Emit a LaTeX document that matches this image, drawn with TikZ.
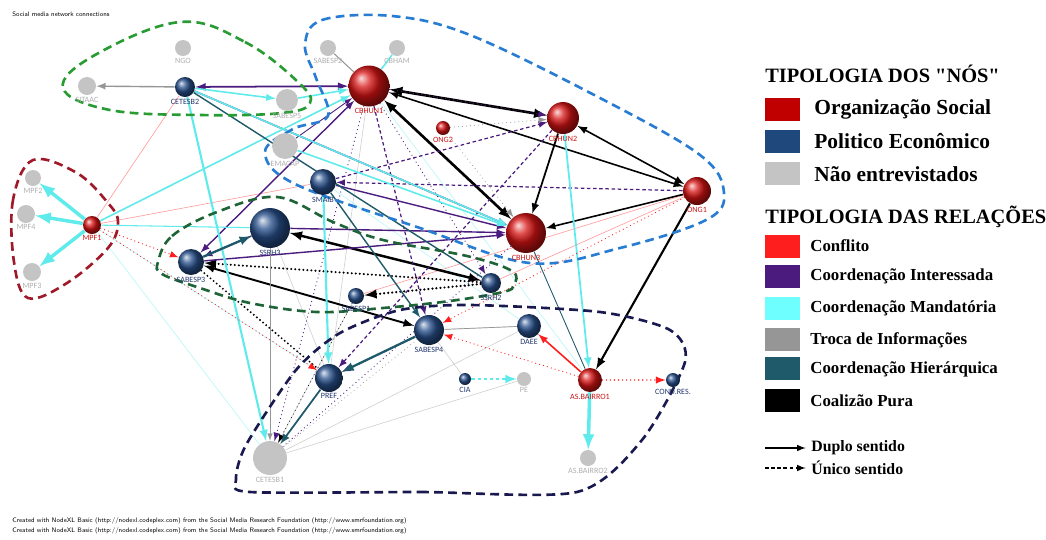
\documentclass[tikz,border=0pt]{standalone}
\usepackage{fontspec}
\setmainfont{Liberation Serif}
\newfontfamily\nxfont{Carlito}
\definecolor{socred}{RGB}{215,20,20}
\definecolor{legred}{RGB}{192,0,0}
\definecolor{polblue}{RGB}{40,80,140}
\definecolor{legblue}{RGB}{31,73,125}
\definecolor{nodegray}{RGB}{196,196,196}
\definecolor{confred}{RGB}{255,30,30}
\definecolor{intpurple}{RGB}{75,28,125}
\definecolor{mandcyan}{RGB}{95,235,235}
\definecolor{legcyan}{RGB}{110,255,255}
\definecolor{trocagray}{RGB}{150,150,150}
\definecolor{hierteal}{RGB}{30,90,105}
\definecolor{lblred}{RGB}{200,20,20}
\definecolor{lblblue}{RGB}{35,55,110}
\definecolor{lblgray}{RGB}{175,175,175}
\definecolor{grpgreen}{RGB}{40,155,50}
\definecolor{grpblue}{RGB}{40,125,210}
\definecolor{grpred}{RGB}{160,25,40}
\definecolor{grpdkgreen}{RGB}{30,100,55}
\definecolor{grpnavy}{RGB}{25,25,80}
\pgfdeclarelayer{background}
\pgfsetlayers{background,main}
\tikzset{
  nlbl/.style={font=\nxfont\fontsize{4.6}{5}\selectfont,inner sep=0.6pt},
  politic/.style={circle,inner sep=0pt,shading=ball,ball color=polblue,minimum size={#1*0.04cm}},
  notint/.style={circle,inner sep=0pt,fill=nodegray,minimum size={#1*0.04cm}},
  rlab/.style={label={[nlbl,text=lblred]below:#1}},
  blab/.style={label={[nlbl,text=lblblue]below:#1}},
  glab/.style={label={[nlbl,text=lblgray]below:#1}},
  tcoal/.style={draw=black,line width=#1},tcoal/.default=1pt,
  tint/.style={draw=intpurple,line width=#1},tint/.default=0.7pt,
  tmand/.style={draw=mandcyan,line width=#1},tmand/.default=0.9pt,
  tconf/.style={draw=confred,line width=#1},tconf/.default=0.7pt,
  ttroca/.style={draw=trocagray,line width=#1},ttroca/.default=0.6pt,
  thier/.style={draw=hierteal,line width=#1},thier/.default=0.9pt,
  dotline/.style={dash pattern=on 0pt off 2.3pt,line cap=round},
  dashline/.style={dash pattern=on 2pt off 1.5pt},
  faint/.style={line width=0.35pt,draw opacity=0.45},
  grp/.style={draw=#1,line width=1.5pt,dash pattern=on 5pt off 3pt},
  headtxt/.style={anchor=west,font=\bfseries\fontsize{11.6}{13}\selectfont,inner sep=0pt},
  keytxt/.style={anchor=west,font=\bfseries\fontsize{12.2}{14}\selectfont,inner sep=0pt},
  reltxt/.style={anchor=west,font=\bfseries\fontsize{9.6}{11}\selectfont,inner sep=0pt},
  credit/.style={anchor=west,font=\sffamily\fontsize{3.7}{4}\selectfont,inner sep=0pt}
}
\begin{document}
\begin{tikzpicture}[x=0.02cm,y=-0.02cm,>=latex,line join=round]
  \useasboundingbox (0,0) rectangle (1046,539);

  % network nodes
  \node[notint=8,glab=NGO] (ngo) at (183,48) {};
  \node[politic=10,blab=CETESB2] (cetesb2) at (185,87) {};
  \node[notint=9,glab=SITAAC] (sitaac) at (87,86) {};
  \node[notint=11,glab=SABESP5] (sabesp5) at (287,100) {};
  \node[notint=13,glab=EMACAP] (emacap) at (285,146) {};
  \node[notint=8,glab=SABESP2] (sabesp2) at (328,48) {};
  \node[notint=8,glab=CBHAM] (cbham) at (397,48) {};
  \node[circle,inner sep=0pt,shading=ball,ball color=socred,minimum size=0.82cm,rlab=CBHUN1] (cbhun1) at (369,86) {};
  \node[circle,inner sep=0pt,shading=ball,ball color=socred,minimum size=0.28cm,rlab=ONG2] (ong2) at (443,128) {};
  \node[circle,inner sep=0pt,shading=ball,ball color=socred,minimum size=0.64cm,rlab=CBHUN2] (cbhun2) at (563,118) {};
  \node[circle,inner sep=0pt,shading=ball,ball color=socred,minimum size=0.56cm,rlab=ONG1] (ong1) at (697,191) {};
  \node[circle,inner sep=0pt,shading=ball,ball color=socred,minimum size=0.8cm,rlab=CBHUN3] (cbhun3) at (526,233) {};
  \node[politic=13,blab=SMAIB] (smaib) at (323,182) {};
  \node[politic=20,blab=SSRH3] (ssrh3) at (270,228) {};
  \node[politic=13,blab=SABESP3] (sabesp3) at (191,262) {};
  \node[politic=8,blab=SABESP1] (sabesp1) at (356,296) {};
  \node[politic=10,blab=SSRH2] (ssrh2) at (491,283) {};
  \node[politic=15,blab=SABESP4] (sabesp4) at (429,330) {};
  \node[politic=12,blab=DAEE] (daee) at (529,326) {};
  \node[politic=14,blab=PREF] (pref) at (329,378) {};
  \node[politic=6,blab=CIA] (cia) at (465,379) {};
  \node[notint=7,glab=PE] (pe) at (524,379) {};
  \node[circle,inner sep=0pt,shading=ball,ball color=socred,minimum size=0.48cm,rlab=AS.BAIRRO1] (asb1) at (590,380) {};
  \node[politic=7,blab=COND.RES.] (condres) at (673,380) {};
  \node[notint=8,glab=AS.BAIRRO2] (asb2) at (588,458) {};
  \node[notint=17,glab=CETESB1] (cetesb1) at (270,458) {};
  \node[notint=8,glab=MPF2] (mpf2) at (33,178) {};
  \node[notint=9,glab=MPF4] (mpf4) at (26,214) {};
  \node[notint=9,glab=MPF3] (mpf3) at (32,272) {};
  \node[circle,inner sep=0pt,shading=ball,ball color=socred,minimum size=0.36cm,rlab=MPF1] (mpf1) at (92,225) {};

  \begin{pgfonlayer}{background}
  % faint background ties
  \draw[faint,trocagray] (pe) -- (cetesb1);
  \draw[faint,trocagray] (daee) -- (cetesb1);
  \draw[faint,trocagray] (cia) -- (sabesp4);
  \draw[faint,trocagray] (daee) -- (sabesp4);
  \draw[faint,trocagray] (sabesp1) -- (cetesb1);
  \draw[faint,trocagray] (ssrh3) -- (pref);
  \draw[faint,trocagray] (cbhun1) -- (pref);
  \draw[faint,confred] (mpf1) -- (cbhun1);
  \draw[faint,confred] (mpf1) -- (smaib);
  \draw[faint,confred] (cetesb2) -- (mpf1);
  \draw[faint,confred,dotline] (ong1) -- (cbhun3);
  \draw[faint,confred] (ong1) -- (ssrh2);
  \draw[faint,confred] (ong1) -- (sabesp1);
  \draw[faint,mandcyan] (mpf1) -- (cetesb1);
  \draw[faint,mandcyan] (mpf1) -- (pref);
  \draw[faint,mandcyan] (smaib) -- (daee);
  \draw[faint,mandcyan] (cbhun1) -- (asb1);

  % coalizao pura
  \draw[tcoal=1.5pt,<->] (cbhun1) -- (cbhun2);
  \draw[tcoal=1.5pt,<->] (cbhun1) -- (cbhun3);
  \draw[tcoal=0.9pt,<->] (cbhun1) -- (ong1);
  \draw[tcoal=0.9pt,<->] (cbhun2) -- (ong1);
  \draw[tcoal=1pt,->] (cbhun2) -- (cbhun3);
  \draw[tcoal=0.9pt,->] (ong1) -- (cbhun3);
  \draw[tcoal=1.2pt,->] (ong1) -- (asb1);
  \draw[tcoal=1.4pt,<->] (ssrh3) -- (ssrh2);
  \draw[tcoal=1.1pt,<->] (sabesp3) -- (sabesp4);
  \draw[tcoal=1.4pt,dotline,->] (ssrh2) -- (sabesp1);
  \draw[tcoal=1.3pt,dotline,->] (ssrh2) -- (sabesp3);
  \draw[tcoal=1.2pt,dotline] (sabesp3) -- (pref);
  \draw[tcoal=0.6pt,dotline,->] (sabesp1) -- (cetesb1);

  % coordenacao interessada
  \draw[tint=1pt,<->] (cetesb2) -- (cbhun1);
  \draw[tint=0.9pt,->] (cetesb2) -- (cbhun3);
  \draw[tint,dashline,->] (ong1) -- (smaib);
  \draw[tint,dashline,->] (smaib) -- (cbhun2);
  \draw[tint,dotline,->] (cbhun1) -- (cbhun2);
  \draw[tint=0.8pt,->] (smaib) -- (cbhun3);
  \draw[tint=0.8pt,->] (ssrh3) -- (cbhun3);
  \draw[tint=0.8pt,->] (sabesp3) -- (cbhun3);
  \draw[tint=0.8pt,<->] (sabesp3) -- (cbhun1);
  \draw[tint=0.8pt,->] (ssrh3) -- (sabesp3);
  \draw[tint,dashline,->] (cbhun1) -- (sabesp4);
  \draw[tint,dashline,->] (cbhun2) -- (pref);
  \draw[tint,dotline,->] (cbhun1) -- (cetesb1);
  \draw[tint,dotline,->] (cbhun1) -- (ssrh2);
  \draw[tint,dashline,->] (sabesp4) -- (pref);
  \draw[tint,dotline] (cbhun3) -- (cetesb1);
  \draw[tint=0.5pt,->] (emacap) -- (cbhun1);

  % coordenacao mandatoria
  \draw[tmand,->] (cetesb2) -- (sabesp5);
  \draw[tmand=1.2pt,->] (cetesb2) -- (cetesb1);
  \draw[tmand,->] (cetesb2) -- (cbhun3);
  \draw[tmand,->] (mpf1) -- (cbhun1);
  \draw[tmand=2pt,->] (mpf1) -- (mpf2);
  \draw[tmand=2pt,->] (mpf1) -- (mpf4);
  \draw[tmand=2pt,->] (mpf1) -- (mpf3);
  \draw[tmand] (cbham) -- (cbhun1);
  \draw[tmand,->] (emacap) -- (cbhun3);
  \draw[tmand,->] (sabesp5) -- (cbhun1);
  \draw[tmand=1.2pt,->] (smaib) -- (pref);
  \draw[tmand=1pt,->] (cbhun2) -- (asb1);
  \draw[tmand=2pt,->] (asb1) -- (asb2);
  \draw[tmand=1.2pt,dashline,->] (cia) -- (pe);
  \draw[tmand=0.6pt] (mpf1) -- (ssrh3);

  % coordenacao hierarquica
  \draw[thier=1.3pt,->] (sabesp3) -- (ssrh3);
  \draw[thier=1.3pt,->] (sabesp4) -- (pref);
  \draw[thier=1pt,->] (pref) -- (cetesb1);
  \draw[thier=0.8pt,->] (smaib) -- (sabesp4);
  \draw[thier=0.8pt] (cetesb2) -- (ssrh2);
  \draw[thier=0.5pt] (cbhun3) -- (asb1);

  % conflito
  \draw[tconf,dotline,->] (mpf1) -- (sabesp3);
  \draw[tconf,dotline,->] (mpf1) -- (pref);
  \draw[tconf=0.9pt,->] (asb1) -- (daee);
  \draw[tconf,dotline,->] (asb1) -- (sabesp4);
  \draw[tconf=0.9pt,dotline,->] (asb1) -- (condres);
  \draw[tconf,dotline,->] (ong1) -- (sabesp4);

  % troca de informacoes
  \draw[ttroca=0.8pt,->] (cetesb2) -- (sitaac);
  \draw[ttroca] (sabesp2) -- (cbhun1);
  \draw[ttroca,dotline,->] (ong2) -- (cbhun2);
  \draw[ttroca,dotline,->] (ong2) -- (cbhun3);
  \draw[ttroca=0.45pt,->] (ssrh3) -- (cetesb1);
  \draw[ttroca,dotline] (sabesp4) -- (cetesb1);
  \draw[ttroca=0.4pt] (sabesp4) -- (daee);

  % groupings
  \draw[grp=grpgreen] plot[smooth cycle,tension=0.65] coordinates
    {(180,22) (245,42) (298,82) (310,103) (282,113) (200,115) (110,110) (63,88) (95,55)};
  \draw[grp=grpblue] plot[smooth cycle,tension=0.6] coordinates
    {(305,45) (322,20) (392,16) (470,35) (600,98) (700,155) (724,193) (706,220) (620,248)
     (530,263) (420,228) (295,184) (265,152) (293,129) (328,116) (316,78)};
  \draw[grp=grpred] plot[smooth cycle,tension=0.6] coordinates
    {(33,160) (13,200) (14,262) (28,298) (67,283) (108,248) (118,222) (108,203) (77,173)};
  \draw[grp=grpdkgreen] plot[smooth cycle,tension=0.6] coordinates
    {(158,262) (172,236) (217,212) (277,197) (333,222) (383,240) (467,256) (512,271)
     (514,285) (503,292) (450,301) (383,308) (317,312) (250,303) (200,288) (162,274)};
  \draw[grp=grpnavy] plot[smooth cycle,tension=0.45] coordinates
    {(250,492) (420,492) (577,492) (642,440) (685,362) (670,330) (600,312) (470,305)
     (400,310) (340,333) (296,370) (246,445) (236,480)};
  \end{pgfonlayer}

  % captions
  \node[credit] (title) at (12,14) {Social media network connections};
  \node[credit] (cred1) at (12,521) {Created with NodeXL Basic (http://nodexl.codeplex.com) from the Social Media Research Foundation (http://www.smrfoundation.org)};
  \node[credit] (cred2) at (12,531) {Created with NodeXL Basic (http://nodexl.codeplex.com) from the Social Media Research Foundation (http://www.smrfoundation.org)};

  % legend: node types
  \node[headtxt] (nohead) at (765,74) {TIPOLOGIA DOS \textquotedbl NÓS\textquotedbl};
  \fill[legred] (765,98) rectangle (800,121);
  \fill[legblue] (765,130) rectangle (800,153);
  \fill[nodegray] (765,162) rectangle (800,185);
  \node[keytxt] (keysoc) at (814,109) {Organização Social};
  \node[keytxt] (keypol) at (814,141) {Politico Econômico};
  \node[keytxt] (keynao) at (814,174) {Não entrevistados};

  % legend: relation types
  \node[headtxt] (relhead) at (765,217) {TIPOLOGIA DAS RELAÇÕES};
  \fill[confred] (765,235) rectangle (800,258);
  \fill[intpurple] (765,265) rectangle (800,288);
  \fill[legcyan] (765,297) rectangle (800,320);
  \fill[trocagray] (765,328) rectangle (800,351);
  \fill[hierteal] (765,357) rectangle (800,380);
  \fill[black] (765,389) rectangle (800,412);
  \node[reltxt] (relconf) at (810,246) {Conflito};
  \node[reltxt] (relint) at (810,276) {Coordenação Interessada};
  \node[reltxt] (relmand) at (810,308) {Coordenação Mandatória};
  \node[reltxt] (reltroca) at (810,340) {Troca de Informações};
  \node[reltxt] (relhier) at (810,369) {Coordenação Hierárquica};
  \node[reltxt] (relcoal) at (810,401) {Coalizão Pura};

  % legend: direction
  \coordinate (duploa) at (765,448);
  \coordinate (unicoa) at (765,468);
  \node[reltxt,font=\bfseries\fontsize{9}{10}\selectfont] (duplo) at (811,448) {Duplo sentido};
  \node[reltxt,font=\bfseries\fontsize{9}{10}\selectfont] (unico) at (811,468) {Único sentido};
  \draw[line width=0.7pt,-latex,shorten >=3pt] (duploa) -- (duplo.west);
  \draw[line width=0.7pt,dash pattern=on 2pt off 1.5pt,-latex,shorten >=3pt] (unicoa) -- (unico.west);
\end{tikzpicture}
\end{document}
